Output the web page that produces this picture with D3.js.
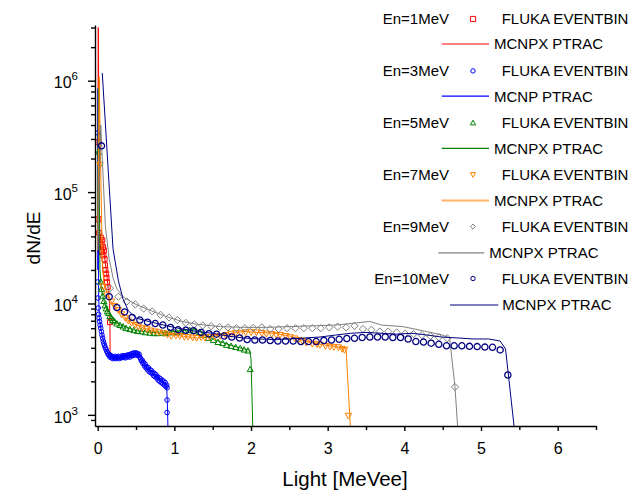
<!DOCTYPE html>
<html>
<head>
<meta charset="utf-8">
<script src="https://cdn.jsdelivr.net/npm/d3@7"></script>
<style>
body { margin: 0; background: #fff; }
svg { font-family: "Liberation Sans", Arial, sans-serif; }
</style>
</head>
<body>
<svg id="chart" width="641" height="491"></svg>
<script>
// tick values
var xTicks = [0, 1, 2, 3, 4, 5, 6];
var xMinorTicks = [0.5, 1.5, 2.5, 3.5, 4.5, 5.5, 6.5];
var yTicks = [1e3, 1e4, 1e5, 1e6];
var yMinorTicks = [900, 2e3, 3e3, 4e3, 5e3, 6e3, 7e3, 8e3, 9e3, 2e4, 3e4, 4e4, 5e4, 6e4, 7e4, 8e4, 9e4,
    2e5, 3e5, 4e5, 5e5, 6e5, 7e5, 8e5, 9e5, 2e6, 3e6];

// legend text
var energyLabels = ["En=1MeV", "En=3MeV", "En=5MeV", "En=7MeV", "En=9MeV", "En=10MeV"];
var flukaLabel = "FLUKA EVENTBIN";
var mcnpLabels = ["MCNPX PTRAC", "MCNP PTRAC", "MCNPX PTRAC", "MCNPX PTRAC", "MCNPX PTRAC", "MCNPX PTRAC"];

// En=1MeV
var fluka1 = [[0.01,2.8e5],[0.01,5.7e4],[0.02,4.3e4],[0.03,3.6e4],[0.035,3.0e4],[0.04,3.9e4],[0.05,3.4e4],[0.055,2.9e4],
    [0.06,3.7e4],[0.07,3.2e4],[0.075,2.7e4],[0.08,3.0e4],[0.09,2.5e4],[0.095,2.2e4],[0.1,2.0e4],[0.11,1.85e4],
    [0.115,1.7e4],[0.12,1.55e4],[0.13,1.4e4],[0.16,6.8e3]];
var mcnpx1 = [[0.002,2e5],[0.008,3.0e6],[0.018,2.5e5],[0.025,4.5e4],[0.04,3.8e4],[0.06,3.5e4],[0.08,2.9e4],[0.1,2.3e4],
    [0.12,1.8e4],[0.14,1.3e4],[0.155,1.0e4],[0.16,6.8e3],[0.162,3.4e3]];

// En=3MeV
var fluka3 = [[0.0,3.4e5],[0.0,1.56e4],[0.003,1.12e4],[0.007,9.1e3],[0.012,8.0e3],[0.018,7.4e3],[0.025,6.9e3],[0.032,6.4e3],
    [0.04,6.0e3],[0.048,5.6e3],[0.056,5.2e3],[0.064,4.9e3],[0.072,4.6e3],[0.08,4.4e3],[0.09,4.2e3],[0.1,4.0e3],
    [0.11,3.85e3],[0.12,3.7e3],[0.13,3.6e3],[0.14,3.45e3],[0.15,3.5e3],[0.16,3.3e3],[0.17,3.4e3],[0.18,3.25e3],
    [0.19,3.35e3],[0.2,3.2e3],[0.21,3.3e3],[0.22,3.25e3],[0.23,3.35e3],[0.24,3.2e3],[0.25,3.3e3],[0.26,3.25e3],
    [0.27,3.35e3],[0.28,3.2e3],[0.29,3.3e3],[0.3,3.35e3],[0.31,3.25e3],[0.32,3.3e3],[0.33,3.4e3],[0.34,3.3e3],
    [0.35,3.35e3],[0.36,3.25e3],[0.37,3.4e3],[0.38,3.3e3],[0.39,3.45e3],[0.4,3.35e3],[0.41,3.45e3],[0.42,3.3e3],
    [0.43,3.5e3],[0.44,3.4e3],[0.45,3.55e3],[0.46,3.4e3],[0.47,3.6e3],[0.48,3.45e3],[0.49,3.55e3],[0.5,3.6e3],
    [0.51,3.45e3],[0.52,3.55e3],[0.53,3.4e3],[0.54,3.5e3],[0.55,3.3e3],[0.56,3.2e3],[0.57,3.05e3],[0.58,3.1e3],
    [0.59,2.9e3],[0.6,2.95e3],[0.61,2.75e3],[0.62,2.85e3],[0.63,2.65e3],[0.64,2.7e3],[0.65,2.55e3],[0.66,2.65e3],
    [0.67,2.45e3],[0.68,2.55e3],[0.69,2.4e3],[0.7,2.5e3],[0.71,2.35e3],[0.72,2.4e3],[0.73,2.25e3],[0.74,2.35e3],
    [0.75,2.2e3],[0.76,2.3e3],[0.77,2.15e3],[0.78,2.2e3],[0.79,2.05e3],[0.8,2.15e3],[0.81,2.0e3],[0.82,2.1e3],
    [0.83,1.95e3],[0.84,2.05e3],[0.85,1.9e3],[0.86,2.0e3],[0.87,1.85e3],[0.88,1.95e3],[0.89,1.8e3],[0.9,1.85e3],
    [0.905,1.75e3],[0.905,1.36e3],[0.905,1.05e3]];
var mcnp3 = [[0.0,2e4],[0.005,8.5e5],[0.012,1.3e4],[0.02,7.5e3],[0.04,6.0e3],[0.06,5.1e3],[0.08,4.5e3],[0.1,4.0e3],
    [0.13,3.6e3],[0.17,3.35e3],[0.25,3.3e3],[0.35,3.35e3],[0.45,3.5e3],[0.52,3.55e3],[0.56,3.3e3],[0.6,2.9e3],
    [0.65,2.6e3],[0.7,2.45e3],[0.75,2.25e3],[0.8,2.1e3],[0.85,1.95e3],[0.9,1.82e3],[0.91,1.2e3],[0.92,600]];

// En=5MeV
var fluka5 = [[0.01,2.3e5],[0.04,1.57e4],[0.05,1.35e4],[0.065,1.17e4],[0.08,1.05e4],[0.095,9.6e3],[0.11,9.0e3],
    [0.125,8.5e3],[0.14,8.2e3],[0.16,7.7e3],[0.18,7.4e3],[0.2,7.1e3],[0.22,6.9e3],[0.25,6.6e3],[0.29,6.4e3],
    [0.33,6.2e3],[0.37,6.0e3],[0.42,5.87e3],[0.47,5.75e3],[0.52,5.65e3],[0.57,5.6e3],[0.62,5.5e3],[0.68,5.45e3],
    [0.73,5.4e3],[0.78,5.4e3],[0.83,5.45e3],[0.88,5.4e3],[0.93,5.5e3],[0.98,5.5e3],[1.03,5.5e3],[1.08,5.6e3],
    [1.13,5.6e3],[1.2,5.75e3],[1.26,5.7e3],[1.33,5.55e3],[1.38,5.2e3],[1.44,4.9e3],[1.51,4.7e3],[1.57,4.5e3],
    [1.63,4.4e3],[1.68,4.24e3],[1.74,4.15e3],[1.8,4.05e3],[1.86,3.96e3],[1.91,3.85e3],[1.96,3.77e3],[1.99,2.57e3]];
var mcnpx5 = [[0.0,3e4],[0.01,8.6e5],[0.03,2e4],[0.05,1.3e4],[0.1,9.5e3],[0.2,7.2e3],[0.3,6.4e3],[0.5,5.7e3],
    [0.7,5.5e3],[0.9,5.5e3],[1.1,5.7e3],[1.25,5.9e3],[1.35,5.6e3],[1.5,4.8e3],[1.7,4.3e3],[1.85,4.0e3],
    [1.98,3.8e3],[2.0,3.2e3],[2.03,500]];

// En=7MeV
var fluka7 = [[0.03,1.75e5],[0.07,1.42e4],[0.12,1.2e4],[0.18,1.04e4],[0.22,9.5e3],[0.27,8.7e3],[0.31,8.0e3],
    [0.36,7.4e3],[0.4,7.0e3],[0.44,6.7e3],[0.49,6.4e3],[0.53,6.2e3],[0.58,6.0e3],[0.64,5.87e3],[0.69,5.7e3],
    [0.75,5.6e3],[0.8,5.5e3],[0.86,5.4e3],[0.91,5.25e3],[0.96,5.1e3],[1.02,5.15e3],[1.07,5.1e3],[1.13,5.0e3],
    [1.18,5.0e3],[1.24,4.95e3],[1.29,4.9e3],[1.35,4.95e3],[1.4,4.9e3],[1.46,5.0e3],[1.53,5.0e3],[1.6,5.1e3],
    [1.67,5.2e3],[1.74,5.3e3],[1.8,5.4e3],[1.87,5.4e3],[1.93,5.5e3],[2.0,5.5e3],[2.07,5.5e3],[2.14,5.4e3],
    [2.2,5.35e3],[2.27,5.3e3],[2.33,5.2e3],[2.38,5.2e3],[2.45,5.1e3],[2.51,4.98e3],[2.57,4.85e3],[2.62,4.7e3],
    [2.67,4.6e3],[2.72,4.45e3],[2.8,4.35e3],[2.86,4.3e3],[2.9,4.24e3],[2.97,4.15e3],[3.03,4.1e3],[3.08,4.05e3],
    [3.14,4.04e3],[3.19,3.9e3],[3.22,3.83e3],[3.27,980]];
var mcnpx7 = [[0.0,3e4],[0.02,1.07e6],[0.04,1.5e5],[0.06,2.5e4],[0.08,1.5e4],[0.15,1.1e4],[0.25,8.8e3],[0.4,7e3],
    [0.6,6e3],[0.8,5.5e3],[1.0,5.2e3],[1.3,4.9e3],[1.6,5.2e3],[1.9,5.6e3],[2.1,5.5e3],[2.3,5.4e3],[2.5,5.1e3],
    [2.7,4.6e3],[2.9,4.3e3],[3.1,4.1e3],[3.24,3.9e3],[3.3,700]];

// En=9MeV
var fluka9 = [[0.16,1.37e4],[0.27,1.15e4],[0.38,1.04e4],[0.49,9.8e3],[0.6,9.0e3],[0.71,8.5e3],[0.82,7.9e3],
    [0.93,7.5e3],[1.04,7.1e3],[1.15,6.7e3],[1.26,6.5e3],[1.37,6.35e3],[1.48,6.25e3],[1.59,6.15e3],[1.7,6.1e3],
    [1.81,6.0e3],[1.92,6.0e3],[2.03,6.05e3],[2.14,6.1e3],[2.25,5.9e3],[2.36,5.9e3],[2.47,6.0e3],[2.58,6.0e3],
    [2.69,6.0e3],[2.8,6.0e3],[2.91,6.0e3],[3.02,6.1e3],[3.13,6.2e3],[3.24,6.1e3],[3.35,6.3e3],[3.46,5.9e3],
    [3.57,5.8e3],[3.68,5.6e3],[3.79,5.6e3],[3.9,5.5e3],[4.01,5.35e3],[4.12,5.3e3],[4.23,5.2e3],[4.34,5.1e3],
    [4.45,4.98e3],[4.56,4.87e3],[4.66,1.78e3]];
var mcnpx9 = [[0.0,3e4],[0.04,4e5],[0.1,5e4],[0.15,2.5e4],[0.2,1.7e4],[0.25,1.35e4],[0.35,1.12e4],[0.5,9.8e3],
    [0.7,8.6e3],[0.9,7.6e3],[1.1,6.9e3],[1.3,6.5e3],[1.6,6.2e3],[1.9,6.1e3],[2.2,6.1e3],[2.5,6.2e3],[2.8,6.3e3],
    [3.1,6.4e3],[3.38,6.7e3],[3.55,6.9e3],[3.7,6.4e3],[3.98,6.2e3],[4.29,5.6e3],[4.5,5.2e3],[4.59,4.9e3],
    [4.66,1.8e3],[4.7,700]];

// En=10MeV
var fluka10 = [[0.05,2.6e5],[0.15,1.15e4],[0.25,9.2e3],[0.35,8.4e3],[0.45,7.5e3],[0.55,7.1e3],[0.65,6.8e3],
    [0.75,6.6e3],[0.85,6.4e3],[0.95,6.1e3],[1.05,5.8e3],[1.15,5.75e3],[1.25,5.7e3],[1.35,5.5e3],[1.45,5.35e3],
    [1.55,5.3e3],[1.65,5.1e3],[1.75,5.0e3],[1.85,4.9e3],[1.95,4.75e3],[2.05,4.7e3],[2.15,4.7e3],[2.25,4.65e3],
    [2.35,4.6e3],[2.45,4.6e3],[2.55,4.6e3],[2.65,4.55e3],[2.75,4.55e3],[2.85,4.55e3],[2.95,4.65e3],[3.05,4.7e3],
    [3.15,4.77e3],[3.25,4.85e3],[3.35,4.87e3],[3.45,4.95e3],[3.55,5.0e3],[3.65,5.0e3],[3.75,5.0e3],[3.85,4.95e3],
    [3.95,4.95e3],[4.05,4.8e3],[4.15,4.55e3],[4.25,4.5e3],[4.35,4.4e3],[4.45,4.3e3],[4.55,4.17e3],[4.65,4.17e3],
    [4.75,4.17e3],[4.85,4.12e3],[4.95,4.1e3],[5.05,4.06e3],[5.15,4.04e3],[5.25,3.83e3],[5.35,2.28e3]];
var mcnpx10 = [[0.06,1.17e6],[0.2,3.1e4],[0.27,1.6e4],[0.33,1.1e4],[0.4,8.6e3],[0.5,7.4e3],[0.7,6.8e3],[0.9,6.3e3],
    [1.1,5.9e3],[1.3,5.6e3],[1.5,5.4e3],[1.7,5.1e3],[1.9,4.9e3],[2.1,4.8e3],[2.3,4.75e3],[2.5,4.8e3],[2.7,4.9e3],
    [2.9,5.0e3],[3.1,5.2e3],[3.3,5.4e3],[3.5,5.5e3],[3.7,5.4e3],[3.9,5.3e3],[4.1,5.4e3],[4.3,5.2e3],[4.48,5.0e3],
    [4.7,4.9e3],[4.9,4.8e3],[5.1,4.8e3],[5.25,4.6e3],[5.32,3.9e3],[5.44,700]];

var series = [
    {fluka: fluka1, mcnp: mcnpx1, color: "#ff0000", shape: "square", size: 2.5, sw: 1},
    {fluka: fluka3, mcnp: mcnp3, color: "#0000ff", shape: "circle", size: 2.3, sw: 1},
    {fluka: fluka5, mcnp: mcnpx5, color: "#008000", shape: "up", size: 3, sw: 1},
    {fluka: fluka7, mcnp: mcnpx7, color: "#ff8000", shape: "down", size: 3.2, sw: 1},
    {fluka: fluka9, mcnp: mcnpx9, color: "#808080", shape: "diamond", size: 3.6, sw: 1},
    {fluka: fluka10, mcnp: mcnpx10, color: "#000080", shape: "circle", size: 3.1, sw: 1.3}
];

var svg = d3.select("#chart");
var plot = {left: 95, right: 596, top: 25, bottom: 426};

var x = d3.scaleLinear().domain([-0.035, 6.5]).range([plot.left, plot.right]);
var y = d3.scaleLog().domain([Math.pow(10, 2.9), Math.pow(10, 6.5)]).range([plot.bottom, plot.top]);

function markerPath(shape, h) {
    if (shape == "square") return "M" + (-h) + "," + (-h) + "h" + 2*h + "v" + 2*h + "h" + (-2*h) + "Z";
    if (shape == "up") return "M0," + (-h) + "L" + h + "," + (h*0.8) + "L" + (-h) + "," + (h*0.8) + "Z";
    if (shape == "down") return "M0," + h + "L" + h + "," + (-h*0.8) + "L" + (-h) + "," + (-h*0.8) + "Z";
    if (shape == "diamond") return "M0," + (-h) + "L" + h + ",0L0," + h + "L" + (-h) + ",0Z";
    return d3.arc()({innerRadius: 0, outerRadius: h, startAngle: 0, endAngle: 2*Math.PI});
}

svg.append("clipPath").attr("id", "clip")
    .append("rect")
    .attr("x", plot.left).attr("y", plot.top)
    .attr("width", plot.right - plot.left).attr("height", plot.bottom - plot.top);

var g = svg.append("g").attr("clip-path", "url(#clip)");
var line = d3.line().x(d => x(d[0])).y(d => y(d[1]));

series.forEach(function(s) {
    g.append("path")
        .datum(s.mcnp)
        .attr("d", line)
        .attr("fill", "none")
        .attr("stroke", s.color)
        .attr("stroke-width", 1);
    g.selectAll(null)
        .data(s.fluka)
        .join("path")
        .attr("transform", d => "translate(" + x(d[0]) + "," + y(d[1]) + ")")
        .attr("d", markerPath(s.shape, s.size))
        .attr("fill", "none")
        .attr("stroke", s.color)
        .attr("stroke-width", s.sw);
});

// x axis
svg.append("g")
    .attr("transform", "translate(0," + plot.bottom + ")")
    .call(d3.axisBottom(x).tickValues(xMinorTicks).tickSize(4).tickSizeOuter(0).tickFormat(""))
    .call(a => a.select(".domain").remove());
var xAxis = svg.append("g")
    .attr("transform", "translate(0," + plot.bottom + ")")
    .call(d3.axisBottom(x).tickValues(xTicks).tickSize(5).tickSizeOuter(0).tickPadding(12).tickFormat(d3.format("d")));
xAxis.selectAll("text").style("font-size", "16px").attr("fill", "#000");

// y axis
svg.append("g")
    .attr("transform", "translate(" + plot.left + ",0)")
    .call(d3.axisLeft(y).tickValues(yMinorTicks).tickSize(4).tickSizeOuter(0).tickFormat(""))
    .call(a => a.select(".domain").remove());
var yAxis = svg.append("g")
    .attr("transform", "translate(" + plot.left + ",0)")
    .call(d3.axisLeft(y).tickValues(yTicks).tickSize(7).tickSizeOuter(0).tickPadding(10).tickFormat(""));
yAxis.selectAll(".tick text")
    .attr("dy", "0.45em")
    .style("font-size", "16px")
    .attr("fill", "#000")
    .each(function(d) {
        var t = d3.select(this);
        t.append("tspan").text("10");
        t.append("tspan").attr("dy", -8).style("font-size", "11.5px").text(Math.round(Math.log10(d)));
    });

svg.selectAll(".domain, .tick line").attr("stroke", "#000").attr("stroke-width", 1.4);

// axis titles
svg.append("text")
    .attr("x", 345).attr("y", 486)
    .attr("text-anchor", "middle")
    .style("font-size", "20.5px")
    .text("Light [MeVee]");
svg.append("text")
    .attr("transform", "translate(40,238) rotate(-90)")
    .attr("text-anchor", "middle")
    .style("font-size", "19px")
    .text("dN/dE");

// legend
var legendLine = [[441.7, 489, 494], [441.7, 489, 494], [441.7, 489, 494], [441.7, 489, 494], [438.3, 484.3, 489.3], [450, 498.3, 502.3]];
var legend = svg.append("g").style("font-size", "15px");
series.forEach(function(s, i) {
    var y1 = 19 + i * 51.9;
    var y2 = 44 + i * 52.2;
    legend.append("text").attr("x", 449).attr("y", y1 + 5.3).attr("text-anchor", "end").text(energyLabels[i]);
    legend.append("path")
        .attr("transform", "translate(473," + y1 + ")")
        .attr("d", markerPath(s.shape, s.shape == "circle" ? 2.2 : 2.6))
        .attr("fill", "none").attr("stroke", s.color).attr("stroke-width", 1);
    legend.append("text").attr("x", 501.7).attr("y", y1 + 5.3).text(flukaLabel);
    var L = legendLine[i];
    legend.append("line")
        .attr("x1", L[0]).attr("x2", L[1]).attr("y1", y2).attr("y2", y2)
        .attr("stroke", s.color).attr("stroke-width", i == 3 ? 2 : 1.2)
        .attr("stroke-opacity", i == 3 ? 0.6 : 1);
    legend.append("text").attr("x", L[2]).attr("y", y2 + 5.3).text(mcnpLabels[i]);
});
</script>
</body>
</html>
